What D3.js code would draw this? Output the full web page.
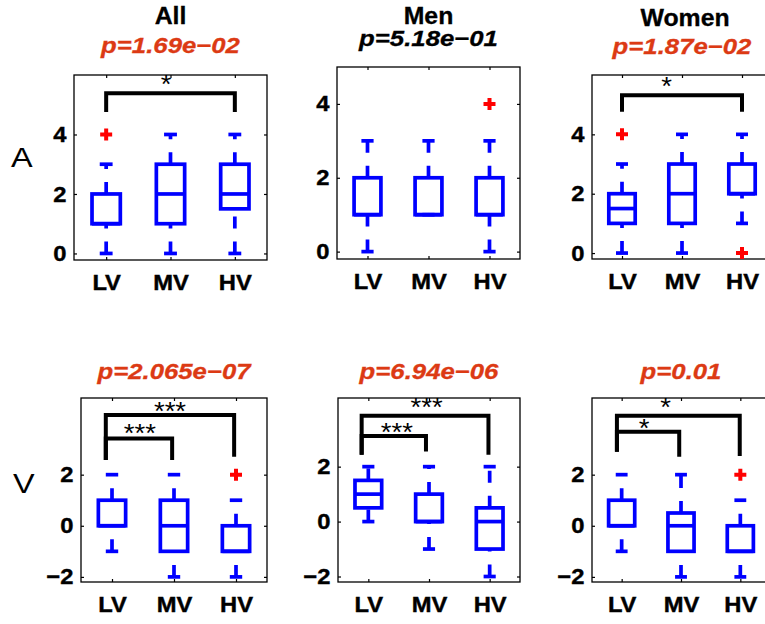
<!DOCTYPE html>
<html>
<head>
<meta charset="utf-8">
<script src="https://cdn.jsdelivr.net/npm/d3@7"></script>
<style>
  body { margin: 0; background: #fff; }
  text { font-family: "Liberation Sans", Arial, Helvetica, sans-serif; }
</style>
</head>
<body>
<div id="chart-area"></div>
<script>
// categories and labels
const categories = ["LV", "MV", "HV"]
const groupTitles = ["All", "Men", "Women"]
const rowLabels = ["A", "V"]
const pLabels = [
  ["p=1.69e−02", "p=5.18e−01", "p=1.87e−02"],
  ["p=2.065e−07", "p=6.94e−06", "p=0.01"],
]
const pSignificant = [[true, false, true], [true, true, true]]
const ticksA = [0, 2, 4]
const ticksV = [-2, 0, 2]

// [lower whisker, q1, median, q3, upper whisker] for LV, MV, HV
const statsAAll = [[0, 1, 1, 2, 3], [0, 1, 2, 3, 4], [0, 1.5, 2, 3, 4]]
const outliersAAll = [[4], [], []]
const statsAMen = [[0, 1, 1, 2, 3], [1, 1, 1, 2, 3], [0, 1, 1, 2, 3]]
const outliersAMen = [[], [], [4]]
const statsAWomen = [[0, 1, 1.5, 2, 3], [0, 1, 2, 3, 4], [1, 2, 2, 3, 4]]
const outliersAWomen = [[4], [], [0]]
const statsVAll = [[-1, 0, 0, 1, 2], [-2, -1, 0, 1, 2], [-2, -1, -1, 0, 1]]
const outliersVAll = [[], [], [2]]
const statsVMen = [[0, 0.5, 1, 1.5, 2], [-1, 0, 0, 1, 2], [-2, -1, 0, 0.5, 2]]
const outliersVMen = [[], [], []]
const statsVWomen = [[-1, 0, 0, 1, 2], [-2, -1, 0, 0.5, 2], [-2, -1, -1, 0, 1]]
const outliersVWomen = [[], [], [2]]

// significance brackets (in data units)
const bracketsAAll = [{ from: 1, to: 3, y: 5.39, leg1: 4.76, leg2: 4.76, label: "*", lx: 1.93, ly: 5.875 }]
const bracketsAMen = []
const bracketsAWomen = [{ from: 1, to: 3, y: 5.32, leg1: 4.76, leg2: 4.76, label: "*", lx: 1.745, ly: 5.8 }]
const bracketsVAll = [
  { from: 0.9, to: 2.97, y: 4.33, leg1: 2.57, leg2: 2.7, label: "***", lx: 1.935, ly: 4.69 },
  { from: 0.9, to: 1.97, y: 3.42, leg1: 2.57, leg2: 2.57, label: "***", lx: 1.45, ly: 3.85 },
]
const bracketsVMen = [
  { from: 0.89, to: 2.98, y: 3.85, leg1: 2.43, leg2: 2.43, label: "***", lx: 1.96, ly: 4.37 },
  { from: 0.89, to: 1.95, y: 3.12, leg1: 2.43, leg2: 2.55, label: "***", lx: 1.47, ly: 3.46 },
]
const bracketsVWomen = [
  { from: 0.92, to: 2.99, y: 4.31, leg1: 2.9, leg2: 2.73, label: "*", lx: 1.74, ly: 4.86 },
  { from: 0.92, to: 1.97, y: 3.68, leg1: 2.9, leg2: 2.7, label: "*", lx: 1.38, ly: 4.03 },
]

// layout of the six axes
const panels = [
  { row: 0, col: 0, stats: statsAAll, out: outliersAAll, br: bracketsAAll, dom: [-0.22, 6], ticks: ticksA,
    l: 74, t: 75, r: 267, b: 260, titleY: 24, pY: 53 },
  { row: 0, col: 1, stats: statsAMen, out: outliersAMen, br: bracketsAMen, dom: [-0.2, 5], ticks: ticksA,
    l: 337, t: 67, r: 520, b: 259, titleY: 24, pY: 46 },
  { row: 0, col: 2, stats: statsAWomen, out: outliersAWomen, br: bracketsAWomen, dom: [-0.2, 6], ticks: ticksA,
    l: 592, t: 75, r: 772, b: 259, titleY: 26, pY: 54 },
  { row: 1, col: 0, stats: statsVAll, out: outliersVAll, br: bracketsVAll, dom: [-2.2, 5], ticks: ticksV,
    l: 81, t: 398, r: 267, b: 582, pY: 379 },
  { row: 1, col: 1, stats: statsVMen, out: outliersVMen, br: bracketsVMen, dom: [-2.2, 4.5], ticks: ticksV,
    l: 338, t: 398, r: 520, b: 582, pY: 379 },
  { row: 1, col: 2, stats: statsVWomen, out: outliersVWomen, br: bracketsVWomen, dom: [-2.2, 5], ticks: ticksV,
    l: 592, t: 398, r: 770, b: 582, pY: 379 },
]

const blue = "#0000ff"
const red = "#ff0000"
const pRed = "#dc3a14"
const fmt = d => (d < 0 ? "−" + Math.abs(d) : "" + d)

const svg = d3.select("#chart-area").append("svg")
  .attr("width", 765)
  .attr("height", 624)

// the original figure's text is a bit wider than Liberation Sans
function label(parent, x, y, str, size, sx) {
  return parent.append("text")
    .attr("transform", `translate(${x},${y}) scale(${sx},1)`)
    .attr("font-size", size + "px")
    .text(str)
}

// row labels
label(svg, 11, 167, rowLabels[0], 27, 1.2)
label(svg, 13, 493, rowLabels[1], 27, 1.2)

panels.forEach(p => {
  const x = d3.scaleLinear().domain([0.5, 3.5]).range([p.l, p.r])
  const y = d3.scaleLinear().domain(p.dom).range([p.b, p.t])
  const g = svg.append("g")
  const cx = (p.l + p.r) / 2

  // titles
  if (p.row === 0) {
    label(g, cx + (p.col === 2 ? 3 : 0), p.titleY, groupTitles[p.col], 23, 1.08)
      .attr("text-anchor", "middle").attr("font-weight", "bold")
      .attr("stroke", "#000").attr("stroke-width", 0.3)
  }
  const pc = pSignificant[p.row][p.col] ? pRed : "#000"
  label(g, cx, p.pY, pLabels[p.row][p.col], 22, 1.17)
    .attr("text-anchor", "middle")
    .attr("font-weight", "bold").attr("font-style", "italic")
    .attr("fill", pc).attr("stroke", pc).attr("stroke-width", 0.3)

  // axes, ticks inward on all four sides
  g.append("rect")
    .attr("x", p.l).attr("y", p.t)
    .attr("width", p.r - p.l).attr("height", p.b - p.t)
    .attr("fill", "none").attr("stroke", "#000").attr("stroke-width", 1.3)

  const yl = g.append("g").attr("transform", `translate(${p.l},0)`)
    .call(d3.axisLeft(y).tickValues(p.ticks).tickSize(-3).tickPadding(7).tickFormat(fmt))
  const yr = g.append("g").attr("transform", `translate(${p.r},0)`)
    .call(d3.axisRight(y).tickValues(p.ticks).tickSize(-3).tickFormat(""))
  const xb = g.append("g").attr("transform", `translate(0,${p.b})`)
    .call(d3.axisBottom(x).tickValues([1, 2, 3]).tickSize(-3).tickPadding(14).tickFormat(d => categories[d - 1]))
  const xt = g.append("g").attr("transform", `translate(0,${p.t})`)
    .call(d3.axisTop(x).tickValues([1, 2, 3]).tickSize(-3).tickFormat(""))
  ;[yl, yr, xb, xt].forEach(a => {
    a.select(".domain").remove()
    a.attr("font-family", null).selectAll("line").attr("stroke-width", 1.2)
  })
  ;[yl, xb].forEach(a => {
    a.selectAll("text").attr("font-size", "22px").attr("font-weight", "bold")
      .attr("fill", "#000").attr("stroke", "#000").attr("stroke-width", 0.4)
      .attr("transform", "scale(1.08,1)")
  })

  // boxes
  const bw = 0.22
  const cw = 0.1
  p.stats.forEach((s, i) => {
    const c = i + 1
    const [lo, q1, med, q3, hi] = s
    // whiskers (dashed, drawn upward)
    g.append("line")
      .attr("x1", x(c)).attr("x2", x(c)).attr("y1", y(lo)).attr("y2", y(q1))
      .attr("stroke", blue).attr("stroke-width", 3.7).attr("stroke-dasharray", "12 13")
    g.append("line")
      .attr("x1", x(c)).attr("x2", x(c)).attr("y1", y(q3)).attr("y2", y(hi))
      .attr("stroke", blue).attr("stroke-width", 3.7).attr("stroke-dasharray", "12 13")
    // caps
    ;[lo, hi].forEach(v => {
      g.append("line")
        .attr("x1", x(c - cw)).attr("x2", x(c + cw)).attr("y1", y(v)).attr("y2", y(v))
        .attr("stroke", blue).attr("stroke-width", 3.7)
    })
    g.append("rect")
      .attr("x", x(c - bw)).attr("y", y(q3))
      .attr("width", x(c + bw) - x(c - bw)).attr("height", y(q1) - y(q3))
      .attr("fill", "none").attr("stroke", blue).attr("stroke-width", 3.7)
    g.append("line")
      .attr("x1", x(c - bw)).attr("x2", x(c + bw)).attr("y1", y(med)).attr("y2", y(med))
      .attr("stroke", blue).attr("stroke-width", 3.7)
    // outliers
    p.out[i].forEach(v => {
      g.append("path")
        .attr("d", `M${x(c) - 6},${y(v)}h12M${x(c)},${y(v) - 6}v12`)
        .attr("stroke", red).attr("stroke-width", 4).attr("fill", "none")
    })
  })

  // significance brackets
  p.br.forEach(d => {
    g.append("polyline")
      .attr("points", [[x(d.from), y(d.leg1)], [x(d.from), y(d.y)], [x(d.to), y(d.y)], [x(d.to), y(d.leg2)]].join(" "))
      .attr("fill", "none").attr("stroke", "#000").attr("stroke-width", 4)
      .attr("stroke-linejoin", "miter")
    label(g, x(d.lx), y(d.ly) + 0.57 * 25, d.label, 25, 1.1)
      .attr("text-anchor", "middle")
  })
})
</script>
</body>
</html>
